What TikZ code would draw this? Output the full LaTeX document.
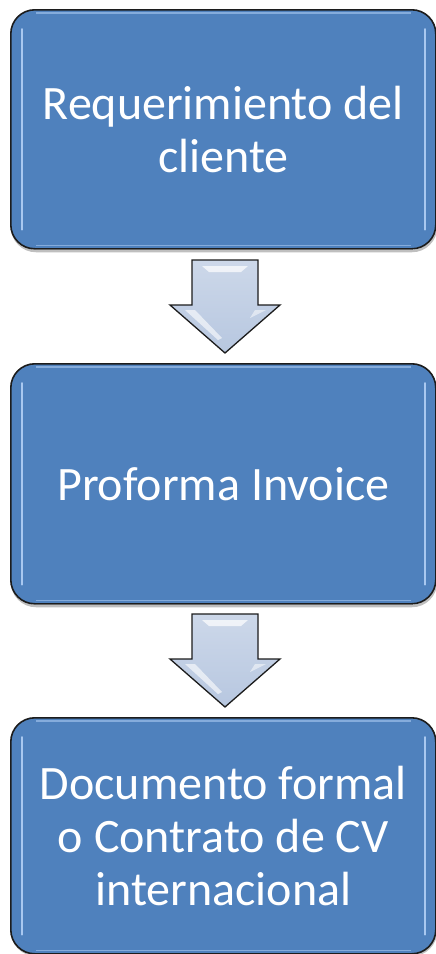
\documentclass[tikz,border=0pt]{standalone}
\usepackage{fontspec}
\setmainfont{Carlito}
\usetikzlibrary{calc}
\definecolor{boxblue}{HTML}{4F81BD}
\definecolor{boxedge}{HTML}{1C1C1C}
\definecolor{arrowfill}{HTML}{B7C7E0}
\definecolor{hilite}{HTML}{A9C8F0}
\tikzset{
  stepbox/.style={draw=boxedge, line width=1.6pt, fill=boxblue, rounded corners=24pt,
    minimum width=425pt, align=center, text=white, inner sep=0pt,
    font=\fontsize{48}{53}\selectfont, anchor=north west},
  shadowline/.style={draw=black!25, line width=2.5pt, rounded corners=24pt},
  downarrow/.style={draw=boxedge, line width=1.3pt, fill=arrowfill, line join=miter},
  bevel/.style={draw=hilite, line width=2pt, line cap=round}
}
\begin{document}
\begin{tikzpicture}[x=1pt,y=-1pt]
\useasboundingbox (0,0) rectangle (436,954);
% shadows
\draw[shadowline] (12,13) rectangle (436,251);
\draw[shadowline] (12,367) rectangle (436,606);
\draw[shadowline] (12,721) rectangle (436,955);
% boxes
\node[stepbox, minimum height=239pt] (b1) at (10,9) {Requerimiento del\\cliente};
\node[stepbox, minimum height=240pt] (b2) at (10,363) {Proforma Invoice};
\node[stepbox, minimum height=236pt] (b3) at (10,717) {Documento formal\\o Contrato de CV\\internacional};
% bevel highlights
\foreach \b in {b1,b2,b3}{
  \draw[bevel] ($(\b.north west)+(12,20)$) -- ($(\b.south west)+(12,-20)$);
  \draw[bevel] ($(\b.north east)+(-12,20)$) -- ($(\b.south east)+(-12,-20)$);
  \draw[draw=hilite!60!boxblue, line width=1.2pt] ($(\b.north west)+(26,4)$) -- ($(\b.north east)+(-26,4)$);
  \draw[draw=hilite!60!boxblue, line width=1.2pt] ($(\b.south west)+(26,-4)$) -- ($(\b.south east)+(-26,-4)$);
}
% arrows
\foreach \top/\name in {260/a1,614/a2}{
  \path[downarrow, top color=arrowfill!70!white, bottom color=arrowfill]
    (192,\top) -- (258,\top) -- (258,\top+45) -- (280,\top+45) -- (225,\top+93)
    -- (170,\top+45) -- (192,\top+45) -- cycle;
  \fill[white, opacity=0.7] (202,\top+6) -- (248,\top+6) -- (241,\top+12) -- (209,\top+12) -- cycle;
  \fill[white, opacity=0.6] (185,\top+50) -- (195,\top+50) -- (222,\top+78) -- (218,\top+80) -- cycle;
  \fill[white, opacity=0.5] (255,\top+50) -- (266,\top+50) -- (250,\top+58) -- cycle;
}
\end{tikzpicture}
\end{document}
